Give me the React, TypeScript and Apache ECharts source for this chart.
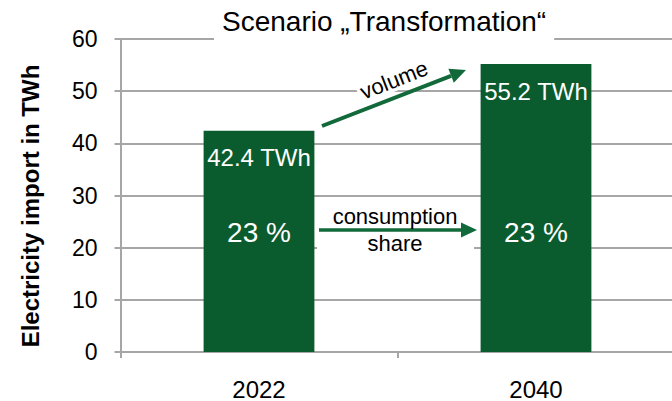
import React, { useEffect, useRef } from "react";
import * as echarts from "echarts";

const categories = ["2022", "2040"];
const importTWh = [42.4, 55.2];
const consumptionShare = [23, 23];
const yMin = 0;
const yMax = 60;
const yInterval = 10;
const titleText = "Scenario \u201ETransformation\u201C";
const yAxisTitle = "Electricity import in TWh";
const volumeText = "volume";
const shareText = ["consumption", "share"];

const FONT = "'Liberation Sans', Arial, Helvetica, sans-serif";
const BAR = "#0A5C2F";
const ARROW = "#12693A";
const GRID = "#A6A6A6";

function arrowHead(x1: number, y1: number, x2: number, y2: number, len: number, half: number) {
  const dx = x2 - x1;
  const dy = y2 - y1;
  const L = Math.sqrt(dx * dx + dy * dy);
  const ux = dx / L;
  const uy = dy / L;
  const bx = x2 - ux * len;
  const by = y2 - uy * len;
  const px = -uy;
  const py = ux;
  return {
    base: [bx, by],
    points: [
      [bx + px * half, by + py * half],
      [x2, y2],
      [bx - px * half, by - py * half],
    ],
  };
}

export default function App() {
  const ref = useRef<HTMLDivElement>(null);

  useEffect(() => {
    document.body.style.margin = "0";
    if (!ref.current) return;
    const chart = echarts.init(ref.current, null, { renderer: "svg" });

    const option: any = {
      animation: false,
      backgroundColor: "#fff",
      textStyle: { fontFamily: FONT },
      title: {
        text: titleText,
        left: 214,
        top: 4,
        padding: [3, 8, 5, 8],
        backgroundColor: "#fff",
        textStyle: { fontSize: 28, fontWeight: "normal", color: "#000", fontFamily: FONT },
      },
      grid: { left: 120.5, right: -2.5, top: 39, bottom: 49, outerBoundsMode: "none" },
      xAxis: {
        type: "category",
        data: categories,
        axisLine: { lineStyle: { color: GRID, width: 2 } },
        axisTick: { show: true, length: 6, lineStyle: { color: GRID, width: 2 } },
        axisLabel: { fontSize: 24, color: "#000", margin: 25, fontFamily: FONT },
      },
      yAxis: {
        type: "value",
        min: yMin,
        max: yMax,
        interval: yInterval,
        name: yAxisTitle,
        nameLocation: "middle",
        nameGap: 78,
        nameTextStyle: {
          fontSize: 24,
          fontWeight: "bold",
          color: "#000",
          fontFamily: FONT,
          padding: [0, 21, 0, 0],
        },
        axisLine: { show: true, lineStyle: { color: GRID, width: 2 } },
        axisTick: { show: true, length: 6, lineStyle: { color: GRID, width: 2 } },
        axisLabel: { fontSize: 23, color: "#000", margin: 23, fontFamily: FONT },
        splitLine: { show: true, lineStyle: { color: GRID, width: 2 } },
      },
      series: [
        {
          type: "bar",
          data: importTWh,
          barCategoryGap: "60%",
          itemStyle: { color: BAR },
          label: {
            show: true,
            position: "insideTop",
            distance: 15,
            color: "#fff",
            fontSize: 24,
            fontFamily: FONT,
            formatter: (p: any) => `${p.value} TWh`,
          },
        },
      ],
    };
    chart.setOption(option);

    const c0 = chart.convertToPixel({ gridIndex: 0 }, [0, 0]) as number[];
    const c1 = chart.convertToPixel({ gridIndex: 0 }, [1, 0]) as number[];
    const shareY = 232;

    // volume arrow
    const vStart = [322, 126];
    const vTip = [466, 70];
    const vHead = arrowHead(vStart[0], vStart[1], vTip[0], vTip[1], 16, 7.5);
    const angle = Math.atan2(vStart[1] - vTip[1], vTip[0] - vStart[0]);

    // consumption arrow
    const cStart = [319, 230];
    const cTip = [477, 230];
    const cHead = arrowHead(cStart[0], cStart[1], cTip[0], cTip[1], 16, 7.5);

    const graphic: any[] = [
      {
        type: "text",
        x: 394,
        y: 80,
        rotation: angle,
        z: 10,
        style: {
          text: volumeText,
          fontSize: 22,
          fontFamily: FONT,
          fill: "#000",
          align: "center",
          verticalAlign: "middle",
          backgroundColor: "#fff",
          padding: [0, 3, 0, 3],
        },
      },
      {
        type: "line",
        z: 11,
        shape: { x1: vStart[0], y1: vStart[1], x2: vHead.base[0], y2: vHead.base[1] },
        style: { stroke: ARROW, lineWidth: 4 },
      },
      {
        type: "polygon",
        z: 11,
        shape: { points: vHead.points },
        style: { fill: ARROW },
      },
      {
        type: "rect",
        z: 9,
        shape: { x: 317, y: 204, width: 157, height: 52 },
        style: { fill: "#fff" },
      },
      {
        type: "line",
        z: 11,
        shape: { x1: cStart[0], y1: cStart[1], x2: cHead.base[0], y2: cHead.base[1] },
        style: { stroke: ARROW, lineWidth: 3.5 },
      },
      {
        type: "polygon",
        z: 11,
        shape: { points: cHead.points },
        style: { fill: ARROW },
      },
      {
        type: "text",
        x: 395,
        y: 216,
        z: 12,
        style: { text: shareText[0], fontSize: 22, fontFamily: FONT, fill: "#000", align: "center", verticalAlign: "middle" },
      },
      {
        type: "text",
        x: 395,
        y: 243,
        z: 12,
        style: { text: shareText[1], fontSize: 22, fontFamily: FONT, fill: "#000", align: "center", verticalAlign: "middle" },
      },
      {
        type: "text",
        x: c0[0],
        y: shareY,
        z: 12,
        style: { text: `${consumptionShare[0]} %`, fontSize: 28, fontFamily: FONT, fill: "#fff", align: "center", verticalAlign: "middle" },
      },
      {
        type: "text",
        x: c1[0],
        y: shareY,
        z: 12,
        style: { text: `${consumptionShare[1]} %`, fontSize: 28, fontFamily: FONT, fill: "#fff", align: "center", verticalAlign: "middle" },
      },
    ];
    chart.setOption({ graphic });

    return () => chart.dispose();
  }, []);

  return <div ref={ref} style={{ width: 672, height: 401 }} />;
}
